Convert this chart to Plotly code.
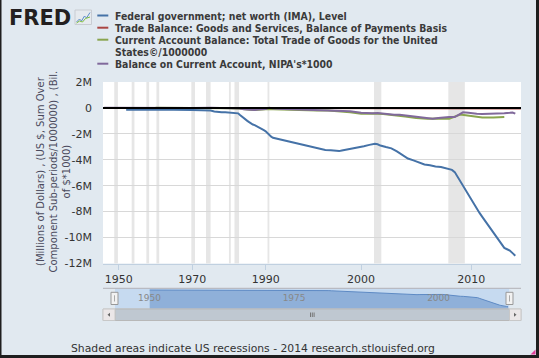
import plotly.graph_objects as go
import pandas as pd

# ---------------- data (millions of dollars) ----------------
BLUE_NAME = "Federal government; net worth (IMA), Level"
RED_NAME = "Trade Balance: Goods and Services, Balance of Payments Basis"
GREEN_NAME = "Current Account Balance: Total Trade of Goods for the United States©/1000000"
PURPLE_NAME = "Balance on Current Account, NIPA's*1000"

blue_dates = [
    "1952-01", "1955-01", "1960-01", "1965-01", "1970-01", "1972-01", "1974-01", "1975-01",
    "1976-01", "1977-01", "1978-01", "1979-01", "1980-01", "1981-01", "1982-01", "1982-07",
    "1983-01", "1983-07", "1984-01", "1984-07", "1985-01", "1985-07", "1986-01", "1986-07",
    "1987-01", "1987-07", "1988-01", "1988-07", "1989-01", "1989-07", "1990-01", "1990-07",
    "1991-01", "1991-07", "1992-01", "1992-04", "1992-10", "1993-04", "1993-10", "1994-04",
    "1994-10", "1995-04", "1995-10", "1996-04", "1996-10", "1997-04", "1997-10", "1998-01",
    "1998-04", "1998-10", "1999-04", "1999-10", "2000-04", "2000-10", "2001-04", "2001-07",
    "2001-10", "2002-04", "2002-10", "2003-04", "2003-10", "2004-04", "2004-10", "2005-04",
    "2005-10", "2006-04", "2006-10", "2007-04", "2007-10", "2008-01", "2008-04", "2008-07",
    "2008-10", "2009-01", "2009-04", "2009-07", "2009-10", "2010-01", "2010-04", "2010-07",
    "2010-10", "2011-01", "2011-04", "2011-07", "2011-10", "2012-01", "2012-04", "2012-07",
    "2012-10", "2013-01", "2013-04", "2013-07", "2013-10", "2014-01",
]
blue_values = [
    -0.15e6, -0.14e6, -0.13e6, -0.14e6, -0.16e6, -0.16e6, -0.17e6, -0.20e6,
    -0.28e6, -0.32e6, -0.33e6, -0.33e6, -0.35e6, -0.36e6, -0.38e6, -0.42e6,
    -0.55e6, -0.68e6, -0.78e6, -0.88e6, -1.00e6, -1.10e6, -1.20e6, -1.28e6,
    -1.33e6, -1.42e6, -1.50e6, -1.60e6, -1.65e6, -1.72e6, -1.80e6, -1.95e6,
    -2.15e6, -2.22e6, -2.30e6, -2.35e6, -2.45e6, -2.55e6, -2.65e6, -2.78e6,
    -2.88e6, -2.97e6, -3.08e6, -3.15e6, -3.24e6, -3.27e6, -3.30e6, -3.33e6,
    -3.28e6, -3.20e6, -3.15e6, -3.05e6, -2.95e6, -2.85e6, -2.77e6, -2.80e6,
    -2.90e6, -3.02e6, -3.12e6, -3.35e6, -3.65e6, -3.90e6, -4.05e6, -4.20e6,
    -4.36e6, -4.42e6, -4.52e6, -4.55e6, -4.65e6, -4.72e6, -4.78e6, -4.95e6,
    -5.30e6, -5.70e6, -6.05e6, -6.45e6, -6.80e6, -7.10e6, -7.45e6, -7.80e6,
    -8.10e6, -8.40e6, -8.70e6, -9.00e6, -9.30e6, -9.60e6, -9.95e6, -10.25e6,
    -10.50e6, -10.80e6, -10.90e6, -11.00e6, -11.20e6, -11.40e6,
]

red_dates = [
    "1992-01", "1993-01", "1994-01", "1995-01", "1996-01", "1997-01", "1998-01", "1999-01",
    "2000-01", "2001-01", "2002-01", "2003-01", "2004-01", "2005-01", "2006-01", "2006-07",
    "2007-01", "2008-01", "2008-07", "2009-01", "2009-07", "2010-01", "2011-01", "2012-01",
    "2013-01", "2014-01", "2014-07",
]
red_values = [
    -2000, -5000, -7000, -9000, -8000, -9000, -12000, -19000,
    -30000, -33000, -31000, -39000, -44000, -58000, -64000, -66000,
    -62000, -61000, -64000, -36000, -31000, -40000, -46000, -51000,
    -43000, -40000, -41000,
]

green_dates = [
    "1960-01", "1965-01", "1970-01", "1975-01", "1978-01", "1980-01", "1983-01", "1984-01",
    "1985-01", "1986-01", "1987-01", "1988-01", "1989-01", "1990-01", "1991-01", "1992-01",
    "1993-01", "1994-01", "1995-01", "1996-01", "1997-01", "1998-01", "1999-01", "2000-01",
    "2001-01", "2002-01", "2003-01", "2004-01", "2005-01", "2006-01", "2007-01", "2008-01",
    "2009-01", "2010-01", "2011-01", "2012-01", "2013-01",
]
green_values = [
    5000, 5000, 2000, 9000, -34000, -25000, -67000, -112000,
    -122000, -145000, -160000, -127000, -118000, -111000, -77000, -97000,
    -133000, -165000, -174000, -191000, -198000, -248000, -337000, -446000,
    -422000, -475000, -542000, -666000, -783000, -839000, -823000, -835000,
    -509000, -649000, -744000, -742000, -702000,
]

purple_dates = [
    "1946-01", "1950-01", "1955-01", "1960-01", "1965-01", "1970-01", "1975-01", "1978-01",
    "1980-01", "1982-01", "1983-01", "1984-01", "1985-01", "1986-01", "1987-01", "1988-01",
    "1989-01", "1990-01", "1991-01", "1991-10", "1992-01", "1993-01", "1994-01", "1995-01",
    "1996-01", "1997-01", "1998-01", "1999-01", "2000-01", "2000-07", "2001-01", "2001-07",
    "2002-01", "2002-07", "2003-01", "2003-07", "2004-01", "2004-07", "2005-01", "2005-07",
    "2006-01", "2006-07", "2007-01", "2007-07", "2008-01", "2008-07", "2009-01", "2009-04",
    "2009-10", "2010-01", "2010-07", "2011-01", "2011-07", "2012-01", "2012-07", "2013-01",
    "2013-07", "2013-10", "2014-01",
]
purple_values = [
    5000, -2000, 1000, 3000, 6000, 3000, 20000, -15000,
    3000, -10000, -40000, -100000, -120000, -150000, -160000, -120000,
    -100000, -80000, 10000, -30000, -50000, -80000, -110000, -120000,
    -130000, -150000, -180000, -260000, -370000, -420000, -420000, -400000,
    -450000, -480000, -520000, -530000, -580000, -650000, -700000, -760000,
    -800000, -840000, -780000, -720000, -700000, -700000, -450000, -340000,
    -380000, -420000, -450000, -460000, -460000, -470000, -430000, -420000,
    -380000, -350000, -440000,
]

recession_starts = ["1948-11", "1953-07", "1957-08", "1960-04", "1969-12", "1973-11",
                    "1980-01", "1981-07", "1990-07", "2001-03", "2007-12"]
recession_ends = ["1949-10", "1954-05", "1958-04", "1961-02", "1970-11", "1975-03",
                  "1980-07", "1982-11", "1991-03", "2001-11", "2009-06"]

y_tick_values = [2e6, 0, -2e6, -4e6, -6e6, -8e6, -10e6, -12e6]
y_tick_labels = ["2M", "0", "-2M", "-4M", "-6M", "-8M", "-10M", "-12M"]
x_tick_dates = ["1950-01", "1970-01", "1990-01", "2000-01", "2010-01"]
x_tick_labels = ["1950", "1970", "1990", "2000", "2010"]
nav_tick_dates = ["1950-01-01", "1975-01-01", "2000-01-01"]
nav_tick_labels = ["1950", "1975", "2000"]

# ordinal (Highstock-style) x axis: quarterly observations until 1991, monthly afterwards
x_categories = (list(pd.date_range("1946-01-01", "1991-10-01", freq="QS").strftime("%Y-%m"))
                + list(pd.date_range("1992-01-01", "2014-07-01", freq="MS").strftime("%Y-%m")))


def to_category(d):
    y, m = int(d[:4]), int(d[5:7])
    if y < 1992:
        m = (m - 1) // 3 * 3 + 1
    return f"{y}-{m:02d}"


# ---------------- layout geometry ----------------
W, H = 539, 358
ML, MR, MT, MB = 103, 18, 82, 38
PW, PH = W - ML - MR, H - MT - MB


def px(x):
    return (x - ML) / PW


def py(y):
    return (H - MB - y) / PH


BG = "#e1e9f0"
FONT = "DejaVu Sans, Verdana, sans-serif"
COND = "DejaVu Sans Condensed, DejaVu Sans, sans-serif"
COLORS = ["#4572A7", "#AA4643", "#89A54E", "#80699B"]
NAV_FLOOR = -12.9e6

fig = go.Figure()
series = [
    (BLUE_NAME, blue_dates, blue_values),
    (RED_NAME, red_dates, red_values),
    (GREEN_NAME, green_dates, green_values),
    (PURPLE_NAME, purple_dates, purple_values),
]
for (name, xs, ys), col in zip(series, COLORS):
    fig.add_trace(go.Scatter(x=xs, y=ys, name=name, mode="lines",
                             line=dict(color=col, width=2), showlegend=False,
                             xaxis="x", yaxis="y"))

# navigator (linear time) showing the first series as an area
fig.add_trace(go.Scatter(x=[blue_dates[0], blue_dates[-1]], y=[NAV_FLOOR, NAV_FLOOR],
                         mode="lines", line=dict(width=0, color="rgba(0,0,0,0)"),
                         showlegend=False, hoverinfo="skip", xaxis="x2", yaxis="y2"))
fig.add_trace(go.Scatter(x=blue_dates, y=blue_values, mode="lines", fill="tonexty",
                         fillcolor="#8fb0d9", line=dict(color="#5e8ac4", width=1),
                         showlegend=False, hoverinfo="skip", xaxis="x2", yaxis="y2"))

shapes = []
for s, e in zip(recession_starts, recession_ends):
    shapes.append(dict(type="rect", xref="x", yref="y domain", x0=to_category(s),
                       x1=to_category(e), y0=0, y1=1, fillcolor="#e6e6e6",
                       line=dict(width=0), layer="below"))
# zero line on top
shapes.append(dict(type="line", xref="x domain", yref="y", x0=0, x1=1, y0=0, y1=0,
                   line=dict(color="black", width=2), layer="above"))

# navigator decorations
shapes.append(dict(type="rect", xref="x2 domain", yref="y2 domain", x0=0, x1=1, y0=0, y1=1,
                   fillcolor="#c6daf0", line=dict(width=0), layer="below"))
shapes.append(dict(type="line", xref="paper", yref="paper", x0=px(103), x1=px(521),
                   y0=py(288.3), y1=py(288.3), line=dict(color="#b2b1b6", width=1)))
# scrollbar
shapes.append(dict(type="rect", xref="paper", yref="paper", x0=px(103), x1=px(521),
                   y0=py(309), y1=py(320.5), fillcolor="#eeeeee",
                   line=dict(color="#c8c8c8", width=1)))
shapes.append(dict(type="rect", xref="paper", yref="paper", x0=px(115), x1=px(509.5),
                   y0=py(309), y1=py(320.5), fillcolor="#bfc8d1",
                   line=dict(color="#b8b8b8", width=1)))
for bx0, bx1 in [(103, 115), (509.5, 521)]:
    shapes.append(dict(type="rect", xref="paper", yref="paper", x0=px(bx0), x1=px(bx1),
                       y0=py(309), y1=py(320.5), fillcolor="#ebe7e8",
                       line=dict(color="#c8c8c8", width=1)))
shapes.append(dict(type="path", xref="paper", yref="paper",
                   path=f"M {px(107.5)} {py(314.7)} L {px(110)} {py(312.7)} L {px(110)} {py(316.7)} Z",
                   fillcolor="#666666", line=dict(width=0)))
shapes.append(dict(type="path", xref="paper", yref="paper",
                   path=f"M {px(516.5)} {py(314.7)} L {px(514)} {py(312.7)} L {px(514)} {py(316.7)} Z",
                   fillcolor="#666666", line=dict(width=0)))
for gx in (310.5, 312.3, 314.1):
    shapes.append(dict(type="line", xref="paper", yref="paper", x0=px(gx), x1=px(gx),
                       y0=py(312.5), y1=py(317), line=dict(color="#777777", width=1)))
# handles
for hx in (114.5, 509.5):
    shapes.append(dict(type="rect", xref="paper", yref="paper", x0=px(hx - 3.5), x1=px(hx + 3.5),
                       y0=py(304.5), y1=py(292.3), fillcolor="#f2f2f2",
                       line=dict(color="#999999", width=1)))
    shapes.append(dict(type="line", xref="paper", yref="paper", x0=px(hx), x1=px(hx),
                       y0=py(301.5), y1=py(295.3), line=dict(color="#aaaaaa", width=1)))

# legend swatches
legend_rows = [15.5, 27.7, 39.7, 63.7]
for yrow, col in zip(legend_rows, COLORS):
    shapes.append(dict(type="line", xref="paper", yref="paper", x0=px(97.3), x1=px(108.3),
                       y0=py(yrow), y1=py(yrow), line=dict(color=col, width=2)))

# FRED logo icon
shapes.append(dict(type="rect", xref="paper", yref="paper", x0=px(75), x1=px(91.5),
                   y0=py(24.5), y1=py(10), fillcolor="#e6eaee", line=dict(color="#c8ccd2", width=1)))
shapes.append(dict(type="path", xref="paper", yref="paper",
                   path="M " + " L ".join(f"{px(a)} {py(b)}" for a, b in
                                         [(76.5, 22), (79.5, 19), (81.5, 21), (84.5, 16), (86.5, 18), (90, 12.5)]),
                   line=dict(color="#5b8bc9", width=1)))
shapes.append(dict(type="path", xref="paper", yref="paper",
                   path="M " + " L ".join(f"{px(a)} {py(b)}" for a, b in
                                         [(76.5, 23), (79.5, 21), (82.5, 22), (85.5, 18.5), (90, 17)]),
                   line=dict(color="#7dbd3e", width=1)))

# page frame and resize grip
shapes.append(dict(type="line", xref="paper", yref="paper", x0=px(0.75), x1=px(0.75),
                   y0=py(0), y1=py(358), line=dict(color="#1e1e1e", width=1.5)))
shapes.append(dict(type="line", xref="paper", yref="paper", x0=px(537.5), x1=px(537.5),
                   y0=py(0), y1=py(358), line=dict(color="#1e1e1e", width=3)))
shapes.append(dict(type="line", xref="paper", yref="paper", x0=px(0), x1=px(539),
                   y0=py(356.5), y1=py(356.5), line=dict(color="#1e1e1e", width=3)))
shapes.append(dict(type="path", xref="paper", yref="paper",
                   path=f"M {px(535.5)} {py(349.5)} L {px(535.5)} {py(354.5)} L {px(530.5)} {py(354.5)} Z",
                   fillcolor="#e0409a", line=dict(width=0)))

annotations = []
legend_texts = [
    (15.5, BLUE_NAME),
    (27.7, RED_NAME),
    (39.7, "Current Account Balance: Total Trade of Goods for the United"),
    (51.7, "States©/1000000"),
    (63.7, PURPLE_NAME),
]
for yrow, txt in legend_texts:
    annotations.append(dict(text=f"<b>{txt}</b>", xref="paper", yref="paper", x=px(112.5),
                            y=py(yrow), xanchor="left", yanchor="middle", showarrow=False,
                            font=dict(family=COND, size=10.4, color="#3a3a3a")))
annotations.append(dict(text="<b>FRED</b>", xref="paper", yref="paper", x=px(40), y=py(17.5),
                        xanchor="center", yanchor="middle", showarrow=False,
                        font=dict(family=FONT, size=21, color="#231f20")))
annotations.append(dict(
    text="(Millions of Dollars) , (US $, Sum Over<br>Component Sub-periods/1000000) , (Bil.<br>of $*1000)",
    xref="paper", yref="paper", x=px(52.5), y=py(172), xanchor="center", yanchor="middle",
    textangle=-90, showarrow=False, font=dict(family=FONT, size=10, color="#4a4a5c")))
annotations.append(dict(text="Shaded areas indicate US recessions - 2014 research.stlouisfed.org",
                        xref="paper", yref="paper", x=px(252.5), y=py(348.7),
                        xanchor="center", yanchor="middle", showarrow=False,
                        font=dict(family=FONT, size=10.8, color="#333333")))

fig.update_layout(
    width=W, height=H,
    margin=dict(l=ML, r=MR, t=MT, b=MB, pad=0),
    paper_bgcolor=BG, plot_bgcolor="white",
    showlegend=False,
    xaxis=dict(type="category", categoryorder="array", categoryarray=x_categories,
               range=[-1.25, len(x_categories) - 0.8], domain=[0, 1], anchor="y",
               tickmode="array", tickvals=x_tick_dates, ticktext=x_tick_labels,
               showgrid=False, showline=True, linecolor="#c0d0e0", linewidth=1,
               ticks="outside", ticklen=5, tickcolor="#c0d0e0",
               tickfont=dict(family=FONT, size=11, color="#333333"), fixedrange=True),
    yaxis=dict(domain=[py(263.5), 1], anchor="x", range=[-12e6, 2e6],
               tickmode="array", tickvals=y_tick_values, ticktext=y_tick_labels,
               showgrid=True, gridcolor="#d8d8d8", gridwidth=1, zeroline=False,
               showline=False, ticks="", ticklabelstandoff=10,
               tickfont=dict(family=FONT, size=11, color="#333333"), fixedrange=True),
    xaxis2=dict(type="date", domain=[px(115), px(509.5)], anchor="y2",
                range=["1946-01-01", "2014-04-01"], tickmode="array",
                tickvals=nav_tick_dates, ticktext=nav_tick_labels,
                ticklabelposition="inside right", showgrid=False, showline=False, ticks="",
                tickfont=dict(family=FONT, size=9, color="#888888"), fixedrange=True),
    yaxis2=dict(domain=[py(309), py(288.3)], anchor="x2", range=[NAV_FLOOR, 1.0e6],
                visible=False, fixedrange=True),
    shapes=shapes,
    annotations=annotations,
)

fig.write_html("out.html", config=dict(displayModeBar=False),
               post_script="document.body.style.margin='0';document.body.style.overflow='hidden';")
